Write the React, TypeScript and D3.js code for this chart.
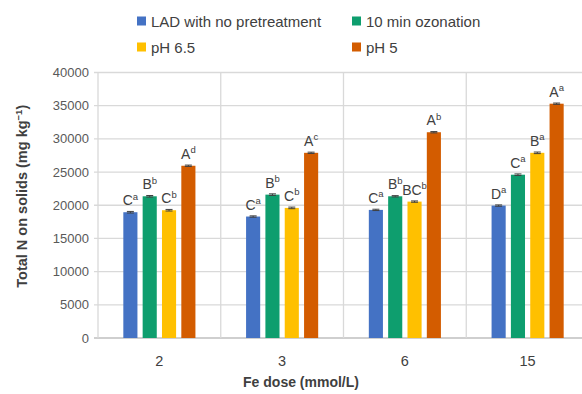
import React from "react";
import * as d3 from "d3";

const categories = ["2", "3", "6", "15"];
const seriesNames = ["LAD with no pretreatment", "10 min ozonation", "pH 6.5", "pH 5"];
const seriesColors = ["#4472C4", "#0E9E6E", "#FFC000", "#D35C00"];
const ladValues = [18950, 18300, 19300, 19950];
const ozoneValues = [21350, 21600, 21350, 24600];
const ph65Values = [19250, 19600, 20550, 27900];
const ph5Values = [25950, 27900, 31000, 35300];
const errValues = [
  [120, 100, 100, 100],
  [120, 120, 100, 120],
  [120, 120, 100, 120],
  [100, 100, 100, 100],
];
const letters = [
  ["C", "C", "C", "D"],
  ["B", "B", "B", "C"],
  ["C", "C", "BC", "B"],
  ["A", "A", "A", "A"],
];
const supers = [
  ["a", "a", "a", "a"],
  ["b", "b", "b", "a"],
  ["b", "b", "b", "a"],
  ["d", "c", "b", "a"],
];
const yTicks = [0, 5000, 10000, 15000, 20000, 25000, 30000, 35000, 40000];

const W = 582;
const H = 394;
const left = 98;
const right = 589;
const top = 72.5;
const bottom = 338;

export default function App() {
  const values = [ladValues, ozoneValues, ph65Values, ph5Values];
  const x0 = d3.scaleBand<string>().domain(categories).range([left, right]).padding(0);
  const x1 = d3
    .scaleBand<string>()
    .domain(seriesNames)
    .range([0, x0.bandwidth()])
    .paddingInner(0.27)
    .paddingOuter(1.31);
  const y = d3.scaleLinear().domain([0, 40000]).range([bottom, top]);
  const font = "'Liberation Sans', Arial, sans-serif";
  const textColor = "#404040";

  return (
    <svg width={W} height={H} style={{ position: "absolute", left: 0, top: 0, background: "#fff" }}>
      <rect x={0} y={0} width={W} height={H} fill="#fff" />
      {/* legend */}
      {seriesNames.map((name, i) => {
        const col = i % 2;
        const row = Math.floor(i / 2);
        const lx = col === 0 ? 137 : 352;
        const ly = row === 0 ? 21 : 47;
        return (
          <g key={name}>
            <rect x={lx} y={ly - 4.5} width={9} height={9} fill={seriesColors[i]} />
            <text x={lx + 14} y={ly + 5.5} fontFamily={font} fontSize={15} fill={textColor}>
              {name}
            </text>
          </g>
        );
      })}
      {/* horizontal gridlines */}
      {yTicks.map((t) => (
        <line
          key={"g" + t}
          x1={left - 4}
          x2={W}
          y1={y(t)}
          y2={y(t)}
          stroke={t === 0 ? "#BFBFBF" : "#D9D9D9"}
          strokeWidth={t === 0 ? 1.6 : 1.3}
        />
      ))}
      {/* vertical gridlines */}
      {categories.map((c) => (
        <line
          key={"v" + c}
          x1={x0(c)!}
          x2={x0(c)!}
          y1={top}
          y2={bottom}
          stroke="#D9D9D9"
          strokeWidth={1.3}
        />
      ))}
      {/* y tick labels */}
      {yTicks.map((t) => (
        <text
          key={"t" + t}
          x={left - 9}
          y={y(t) + 4.5}
          textAnchor="end"
          fontFamily={font}
          fontSize={13}
          fill="#595959"
        >
          {t}
        </text>
      ))}
      {/* bars */}
      {categories.map((c, ci) => (
        <g key={"cat" + c}>
          {seriesNames.map((s, si) => {
            const v = values[si][ci];
            const bx = x0(c)! + x1(s)!;
            const bw = x1.bandwidth();
            const e = errValues[si][ci];
            const cx = bx + bw / 2;
            const letter = letters[si][ci];
            const sup = supers[si][ci];
            return (
              <g key={s}>
                <rect x={bx} y={y(v)} width={bw} height={bottom - y(v)} fill={seriesColors[si]} />
                <line x1={cx} x2={cx} y1={y(v + e)} y2={y(v - e)} stroke="#404040" strokeWidth={1} />
                <line x1={cx - 3.5} x2={cx + 3.5} y1={y(v + e)} y2={y(v + e)} stroke="#404040" strokeWidth={1} />
                <line x1={cx - 3.5} x2={cx + 3.5} y1={y(v - e)} y2={y(v - e)} stroke="#404040" strokeWidth={1} />
                <text
                  x={cx}
                  y={y(v) - 7}
                  textAnchor="middle"
                  fontFamily={font}
                  fontSize={14}
                  fill={textColor}
                >
                  {letter}
                  <tspan fontSize={9.5} dy={-5.5}>
                    {sup}
                  </tspan>
                </text>
              </g>
            );
          })}
        </g>
      ))}
      {/* x tick labels */}
      {categories.map((c) => (
        <text
          key={"xl" + c}
          x={x0(c)! + x0.bandwidth() / 2}
          y={366}
          textAnchor="middle"
          fontFamily={font}
          fontSize={14.5}
          fill={textColor}
        >
          {c}
        </text>
      ))}
      {/* axis titles */}
      <text
        x={301}
        y={387}
        textAnchor="middle"
        fontFamily={font}
        fontSize={14}
        fontWeight="bold"
        fill={textColor}
      >
        Fe dose (mmol/L)
      </text>
      <text
        transform={`translate(27,${(top + bottom) / 2 - 9}) rotate(-90)`}
        textAnchor="middle"
        fontFamily={font}
        fontSize={14.5}
        fontWeight="bold"
        fill={textColor}
      >
        Total N on solids (mg kg
        <tspan fontSize={9.5} dy={-5}>
          −1
        </tspan>
        <tspan dy={5}>)</tspan>
      </text>
    </svg>
  );
}
